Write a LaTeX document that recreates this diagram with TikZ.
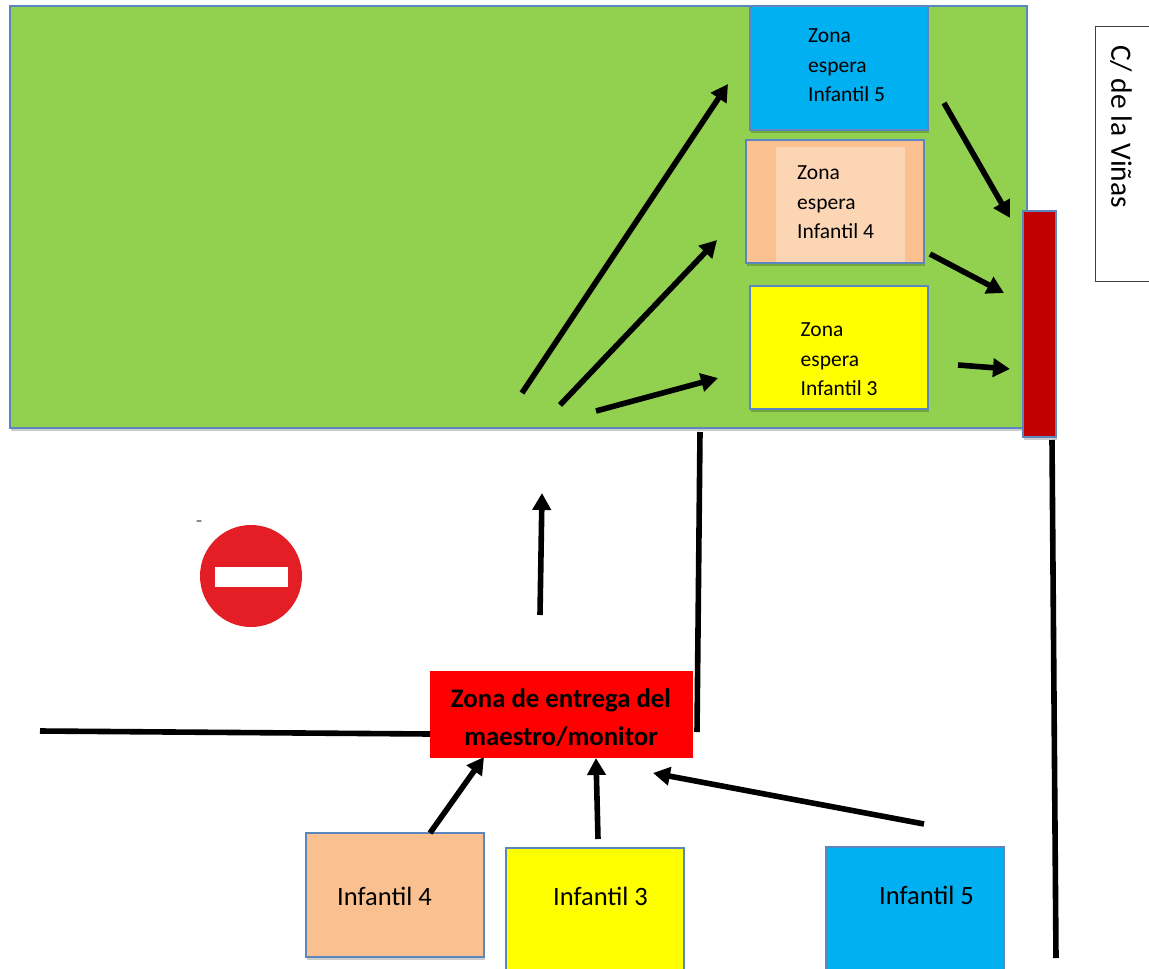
\documentclass[tikz,border=0pt]{standalone}
\usepackage{fontspec}
\setmainfont{Carlito}
\usetikzlibrary{shadows,arrows.meta,shapes.geometric}
\definecolor{grassgreen}{HTML}{92D050}
\definecolor{skyb}{HTML}{00B0F0}
\definecolor{peach}{HTML}{FAC090}
\definecolor{peachlight}{HTML}{FCD5B5}
\definecolor{yell}{HTML}{FFFF00}
\definecolor{darkred}{HTML}{C00000}
\definecolor{purered}{HTML}{FF0000}
\definecolor{edgeblue}{HTML}{5B86C0}
\definecolor{signred}{HTML}{E31E24}
\tikzset{
  pbox/.style={draw=edgeblue,line width=1.4pt,inner sep=0pt,
    drop shadow={shadow xshift=1pt,shadow yshift=-3pt,opacity=.2,fill=black}},
  ztext/.style={font=\fontsize{21.5}{29.7}\selectfont,align=left,anchor=north west,inner sep=0pt},
  itext/.style={font=\fontsize{26.5}{29}\selectfont,inner sep=0pt,anchor=west},
  arr/.style={line width=5.6pt,-{Triangle[length=17pt,width=18pt]}},
  wall/.style={line width=5.6pt},
}
\newcommand{\boxnode}[6]{\node[pbox,fill=#2,minimum width=#5-#3,minimum height=#6-#4] (#1) at ({(#3+#5)/2},{(#4+#6)/2}) {};}
\begin{document}
\begin{tikzpicture}[x=1pt,y=-1pt]
\clip (0,0) rectangle (1149,969);
\boxnode{garden}{grassgreen}{10}{6}{1027}{428}
\boxnode{b5}{skyb}{750}{6}{928}{130}
\boxnode{b4}{peach}{746}{140}{924}{263}
\node[fill=peachlight,minimum width=129,minimum height=115,inner sep=0pt] (b4inner) at (840.5,204.5) {};
\boxnode{b3}{yell}{750}{286}{928}{409}
\boxnode{gate}{darkred}{1023}{211}{1056}{437}
\node[ztext] (t5) at (808,28.5) {Zona\\espera\\Infantil 5};
\node[ztext] (t4) at (797,165.5) {Zona\\espera\\Infantil 4};
\node[ztext] (t3) at (800.5,322.5) {Zona\\espera\\Infantil 3};
% street
\coordinate (sA) at (1152,26);
\coordinate (sB) at (1095,26);
\coordinate (sC) at (1095,281);
\coordinate (sD) at (1152,281);
\draw[line width=.9pt,draw=black!75] (sA) -- (sB) -- (sC) -- (sD);
\node[font=\fontsize{29.5}{32}\selectfont,rotate=-90,anchor=west,inner sep=0pt] (street) at (1121,45) {C/ de la Viñas};
% sign
\node[circle,fill=signred,minimum size=102,inner sep=0pt] (sign) at (251,576) {};
\node[fill=white,minimum width=73,minimum height=20,inner sep=0pt] (bar) at (251.5,577) {};
\node[ellipse,fill=black!45,minimum width=6,minimum height=2,inner sep=0pt] (speck) at (199,521) {};
% lower boxes
\node[fill=purered,minimum width=263,minimum height=87,inner sep=0pt] (hand) at (561.5,714.5) {};
\node[inner sep=0pt,align=center,font=\fontsize{26.8}{38}\selectfont\bfseries] (handt) at (561,718) {Zona de entrega del\\maestro/monitor};
\boxnode{i4}{peach}{306}{833}{484}{957}
\boxnode{i3}{yell}{506}{848}{684}{990}
\boxnode{i5}{skyb}{826}{847}{1004}{990}
\node[itext] (ti4) at (337,896) {Infantil 4};
\node[itext] (ti3) at (553,896) {Infantil 3};
\node[itext] (ti5) at (879,895) {Infantil 5};
% coordinates
\coordinate (a1s) at (522,393); \coordinate (a1e) at (728,84);
\coordinate (a2s) at (560,405); \coordinate (a2e) at (717,240);
\coordinate (a3s) at (596,411); \coordinate (a3e) at (718,378);
\coordinate (a4s) at (944,103); \coordinate (a4e) at (1010,218);
\coordinate (a5s) at (930,254); \coordinate (a5e) at (1004,293);
\coordinate (a6s) at (958,365); \coordinate (a6e) at (1010,369);
\coordinate (a7s) at (540,615); \coordinate (a7e) at (542,493);
\coordinate (a8s) at (430,833); \coordinate (a8e) at (484,757);
\coordinate (a9s) at (598,839); \coordinate (a9e) at (596,758);
\coordinate (a10s) at (924,824); \coordinate (a10e) at (653,773);
\coordinate (w1s) at (700,432); \coordinate (w1e) at (697,732);
\coordinate (w2s) at (1052,440); \coordinate (w2e) at (1056,958);
\coordinate (w3s) at (40,731); \coordinate (w3e) at (430,734);
\foreach \n in {1,...,10} {\draw[arr] (a\n s) -- (a\n e);}
\draw[wall] (w1s) -- (w1e);
\draw[wall] (w2s) -- (w2e);
\draw[wall] (w3s) -- (w3e);
\end{tikzpicture}
\end{document}
